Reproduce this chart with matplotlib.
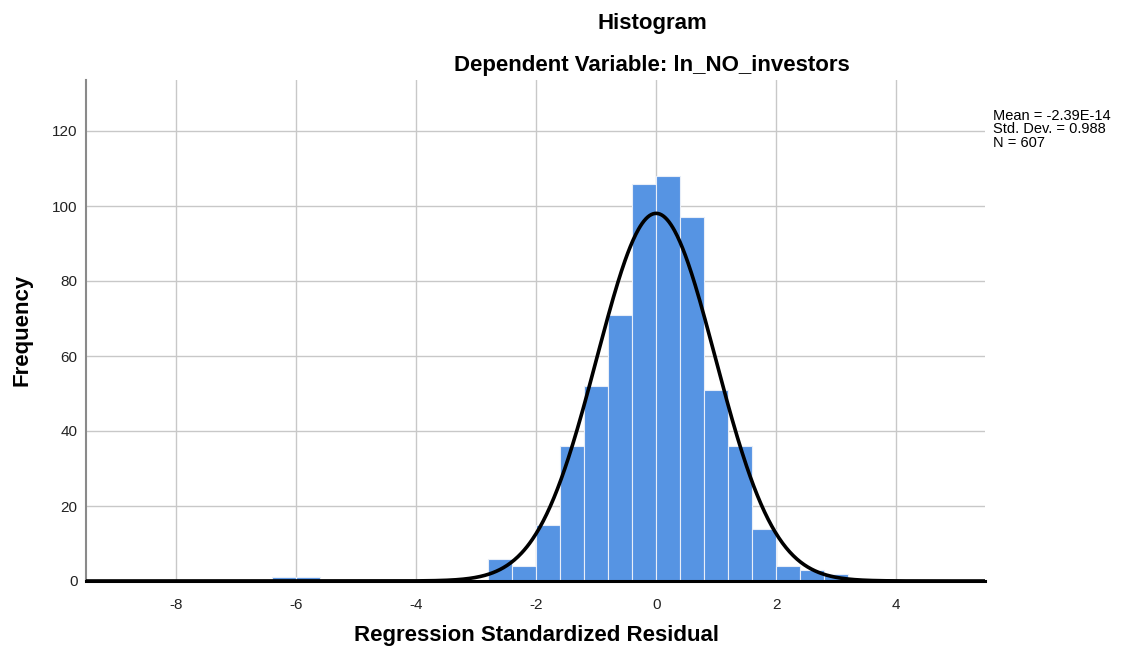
import numpy as np
import matplotlib
matplotlib.use("Agg")
import matplotlib.pyplot as plt

plt.rcParams['font.family'] = ['Liberation Sans', 'DejaVu Sans']

# Data
bin_left_edges = [-6.4, -6.0, -2.8, -2.4, -2.0, -1.6, -1.2, -0.8, -0.4, 0.0,
                  0.4, 0.8, 1.2, 1.6, 2.0, 2.4, 2.8]
frequencies = [1, 1, 6, 4, 15, 36, 52, 71, 106, 108, 97, 51, 36, 14, 4, 3, 2]
bin_width = 0.4
mean_val = -2.39e-14
std_val = 0.988
n_val = 607
x_ticks = [-8, -6, -4, -2, 0, 2, 4]
y_ticks = [0, 20, 40, 60, 80, 100, 120]

fig = plt.figure(figsize=(11.26, 6.48), dpi=100)
ax = fig.add_axes([86/1126, 1-581/648, (985-86)/1126, (581-80)/648])

ax.bar(bin_left_edges, frequencies, width=bin_width, align='edge',
       color='#5694E3', edgecolor='#E8EEF8', linewidth=0.8, zorder=2)

xs = np.linspace(-9.5, 5.48, 1000)
ys = n_val * bin_width * np.exp(-0.5 * ((xs - mean_val) / std_val) ** 2) / (std_val * np.sqrt(2 * np.pi))
ax.plot(xs, ys, color='black', lw=2.6, zorder=3, solid_capstyle='butt')

ax.set_xlim(-9.5, 5.48)
ax.set_ylim(0, 133.6)
ax.set_xticks(x_ticks)
ax.set_xticklabels([str(t) for t in x_ticks])
ax.set_yticks(y_ticks)
ax.set_yticklabels([str(t) for t in y_ticks])
ax.tick_params(axis='y', length=0, labelsize=11, colors='#222222', pad=6)
ax.tick_params(axis='x', length=0, labelsize=11, colors='#222222', pad=12)
ax.grid(True, color='#C8C8C8', lw=1.0, zorder=0)
ax.set_axisbelow(True)
for s in ['top', 'right']:
    ax.spines[s].set_visible(False)
ax.spines['left'].set_color('#8A8A8A')
ax.spines['left'].set_linewidth(1.5)
ax.spines['bottom'].set_color('black')
ax.spines['bottom'].set_linewidth(2.2)
ax.spines['bottom'].set_zorder(4)

ax.set_xlabel('Regression Standardized Residual', fontsize=16, fontweight='bold')
ax.set_ylabel('Frequency', fontsize=16, fontweight='bold')
ax.xaxis.set_label_coords((536-86)/899, (581-636)/501)
ax.xaxis.label.set_va('center')
ax.yaxis.set_label_coords((22-86)/899, (581-330)/501)
ax.yaxis.label.set_va('center')

fig.text(652/1126, 1-24/648, 'Histogram', ha='center', va='center', fontsize=16, fontweight='bold')
fig.text(652/1126, 1-65/648, 'Dependent Variable: ln_NO_investors', ha='center', va='center',
         fontsize=16, fontweight='bold')

stats = f"Mean = -2.39E-14\nStd. Dev. = {std_val}\nN = {n_val}"
fig.text(993/1126, 1-109/648, stats, ha='left', va='top', fontsize=10.5, linespacing=0.95)

fig.savefig('out.png', dpi=100)
